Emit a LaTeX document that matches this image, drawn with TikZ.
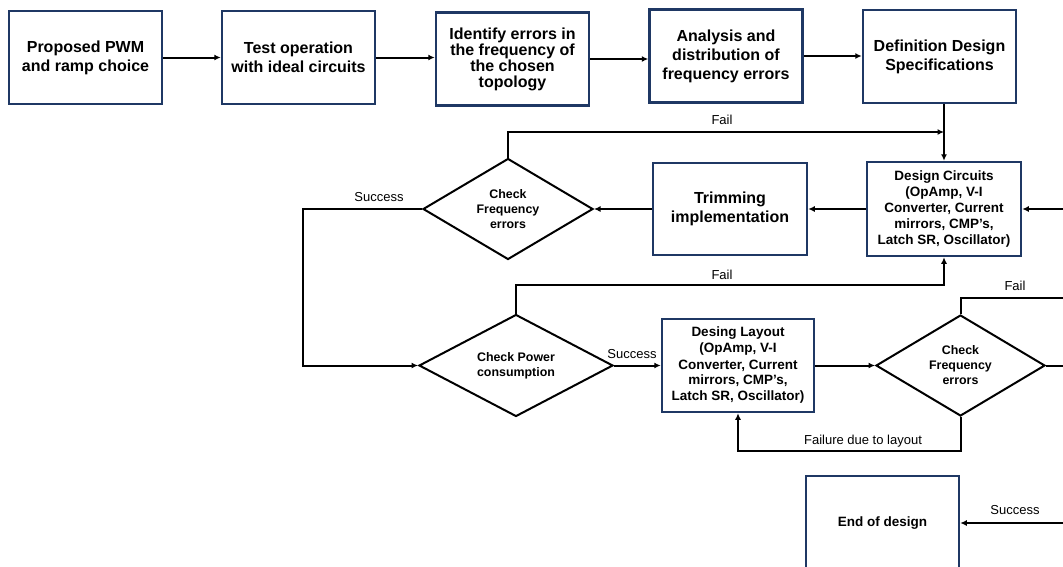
\documentclass[tikz,border=0pt]{standalone}
\usepackage{fontspec}
\setmainfont{Liberation Sans}
\usetikzlibrary{arrows.meta,shapes.geometric}
\definecolor{navy}{RGB}{31,56,100}
\begin{document}
\begin{tikzpicture}[x=1pt,y=-1pt,
  tbox/.style={draw=navy, line width=2.5pt, minimum width=153pt, minimum height=93pt, inner sep=0pt, align=center, font=\bfseries\fontsize{16}{19}\selectfont},
  cbox/.style={draw=navy, line width=2.5pt, minimum width=154pt, minimum height=94pt, inner sep=0pt, align=center, font=\bfseries\fontsize{13.5}{16}\selectfont},
  dia/.style={diamond, draw=black, line width=2pt, aspect=1.7, inner sep=0pt, align=center, font=\bfseries\fontsize{12.4}{15}\selectfont},
  lbl/.style={inner sep=0pt, font=\fontsize{13}{15}\selectfont},
  conn/.style={line width=2pt, -{Latex[length=6.5pt,width=6pt]}},
  plain/.style={line width=2pt}
]
\useasboundingbox (0,0) rectangle (1063,566);
\clip (0,0) rectangle (1063,566);

% top row
\node[tbox] (b1) at (85.5,57.5) {Proposed PWM\\and ramp choice};
\node[tbox] (b2) at (298.5,57.5) {Test operation\\with ideal circuits};
\node[tbox, font=\bfseries\fontsize{16}{16}\selectfont] (b3) at (512.5,59) {Identify errors in\\the frequency of\\the chosen\\topology};
\node[tbox] (b4) at (726,56) {Analysis and\\distribution of\\frequency errors};
\node[tbox] (b5) at (939.5,56.5) {Definition Design\\Specifications};

\draw[conn] (b1.east) -- (b2.west);
\draw[conn] (b2.east) -- (b2.east -| b3.west);
\draw[conn] (b3.east) -- (b3.east -| b4.west);
\draw[conn] (b4.east) -- (b4.east -| b5.west);

% second row
\node[cbox] (dc) at (944,209) {Design Circuits\\(OpAmp, V-I\\Converter, Current\\mirrors, CMP’s,\\Latch SR, Oscillator)};
\node[tbox, minimum width=154pt, minimum height=92pt] (tr) at (730,209) {Trimming\\implementation};
\node[dia, minimum width=170pt, minimum height=101pt] (d1) at (508,209) {Check\\Frequency\\errors};

\draw[conn] (b5.south -| dc.north) -- (dc.north);
\draw[conn] (dc.west) -- (tr.east);
\draw[conn] (tr.west) -- (d1.east);
\coordinate (f1) at (944,132);
\draw[conn] (d1.north) |- (f1);
\node[lbl] (lf1) at (722,120) {Fail};
\coordinate (rin) at (1063,209);
\draw[conn] (rin) -- (dc.east);

% third row
\node[dia, minimum width=194pt, minimum height=102pt] (d2) at (516,365.5) {Check Power\\consumption};
\node[cbox, minimum width=152pt, minimum height=93pt] (dl) at (738,365.5) {Desing Layout\\(OpAmp, V-I\\Converter, Current\\mirrors, CMP’s,\\Latch SR, Oscillator)};
\node[dia, minimum width=169pt, minimum height=101pt] (d3) at (960.5,365.5) {Check\\Frequency\\errors};

\coordinate (sc) at (303,209);
\draw[conn] (d1.west) -- (sc) |- (d2.west);
\node[lbl] (ls1) at (379,197) {Success};

\draw[conn] (d2.north) -- ++(0,-29) -| (dc.south);
\node[lbl] (lf2) at (722,275) {Fail};

\draw[conn] (d2.east) -- (dl.west);
\node[lbl] (ls2) at (632,354) {Success};

\draw[conn] (dl.east) -- (d3.west);

\coordinate (f3) at (1063,298);
\draw[plain] (d3.north) |- (f3);
\node[lbl] (lf3) at (1015,286) {Fail};
\coordinate (r3) at (1063,365.5);
\draw[plain] (d3.east) -- (r3);

\draw[conn] (d3.south) -- ++(0,34) -| (dl.south);
\node[lbl] (lfl) at (863,441) {Failure due to layout};

% bottom
\node[cbox, minimum width=153pt, minimum height=94pt] (end) at (882.5,523) {End of design};
\coordinate (r4) at (1063,523);
\draw[conn] (r4) -- (end.east);
\node[lbl] (ls3) at (1015,510) {Success};
\end{tikzpicture}
\end{document}
